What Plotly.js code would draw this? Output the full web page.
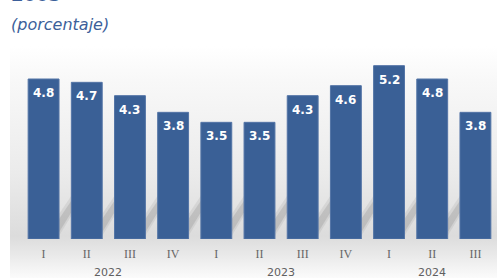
<!DOCTYPE html>
<html>
<head>
<meta charset="utf-8">
<script src="https://cdn.plot.ly/plotly-3.0.1.min.js"></script>
<style>html,body{margin:0;padding:0;background:#fff;}#chart{width:497px;height:278px;}</style>
</head>
<body>
<div id="chart"></div>
<script>
var quarters = ['I','II','III','IV','I','II','III','IV','I','II','III'];
var values = [4.8, 4.7, 4.3, 3.8, 3.5, 3.5, 4.3, 4.6, 5.2, 4.8, 3.8];
var years = ['2022','2023','2024'];
var yearCenters = [1.5, 5.5, 9];

var xs = quarters.map(function(q,i){return i;});
var barW = 0.715;

var bg = 'data:image/svg+xml;utf8,' + encodeURIComponent(
 '<svg xmlns="http://www.w3.org/2000/svg" width="100" height="100" preserveAspectRatio="none">' +
 '<defs><linearGradient id="g" x1="0" y1="0" x2="0" y2="1">' +
 '<stop offset="0" stop-color="#ffffff"/>' +
 '<stop offset="0.15" stop-color="#f8f8f8"/>' +
 '<stop offset="0.55" stop-color="#ebebeb"/>' +
 '<stop offset="0.82" stop-color="#dcdcdc"/>' +
 '<stop offset="0.9" stop-color="#e9e9e9"/>' +
 '<stop offset="1" stop-color="#fbfbfb"/>' +
 '</linearGradient></defs>' +
 '<rect width="100" height="100" fill="url(#g)"/></svg>');

// soft floor shadows between bars
var shapes = [];
for (var i = 0; i < xs.length - 1; i++) {
  var R = xs[i] + barW/2, L = xs[i+1] - barW/2;
  shapes.push({type:'path', xref:'x', yref:'y', layer:'below', line:{width:0},
    fillcolor:'rgba(150,150,150,0.18)',
    path:'M'+R+',0.1 L'+R+',0.75 L'+L+',1.3 L'+L+',0.7 Z'});
  shapes.push({type:'path', xref:'x', yref:'y', layer:'below', line:{width:0},
    fillcolor:'rgba(130,130,130,0.25)',
    path:'M'+R+',0.2 L'+R+',0.6 L'+L+',1.15 L'+L+',0.8 Z'});
}

var annotations = values.map(function(v,i){
  return {x:i, y:v, xref:'x', yref:'y', text:v.toFixed(1), showarrow:false,
    yanchor:'top', yshift:-5,
    font:{family:'DejaVu Sans', size:12, color:'#ffffff', weight:'bold'}};
});
years.forEach(function(yr,i){
  annotations.push({x:yearCenters[i], y:-0.178, xref:'x', yref:'paper', text:yr, showarrow:false,
    yanchor:'middle', font:{family:'DejaVu Sans', size:11, color:'#606060'}});
});
annotations.push({x:-13/475, y:(239-24)/191, xref:'paper', yref:'paper', xanchor:'left', yanchor:'middle',
  text:'<i>(porcentaje)</i>', showarrow:false,
  font:{family:'DejaVu Sans', size:16, color:'#3c5f9a'}});
annotations.push({x:-13/475, y:(239-7)/191, xref:'paper', yref:'paper', xanchor:'left', yanchor:'bottom',
  text:'<b>2003</b>', showarrow:false,
  font:{family:'DejaVu Sans', size:18, color:'#3c5f9a'}});

var trace = {
  type:'bar', x:xs, y:values,
  marker:{color:'#3a6096', line:{color:'#5374a6', width:1}},
  width:barW, hoverinfo:'none'
};

var layout = {
  width:497, height:278,
  margin:{l:22, r:0, t:48, b:39},
  paper_bgcolor:'#ffffff', plot_bgcolor:'rgba(0,0,0,0)',
  showlegend:false,
  xaxis:{range:[-0.5,10.5], tickvals:xs, ticktext:quarters, showgrid:false, zeroline:false,
    showline:false, ticks:'', ticklabelstandoff:6,
    tickfont:{family:'Liberation Serif', size:12, color:'#666666'}},
  yaxis:{range:[0,5.73], visible:false, showgrid:false, zeroline:false},
  images:[{source:bg, xref:'paper', yref:'paper', x:-12/475, y:(239-46)/191,
    sizex:487/475, sizey:232/191, sizing:'stretch', layer:'below', xanchor:'left', yanchor:'top'}],
  shapes:shapes,
  annotations:annotations
};

Plotly.newPlot('chart',[trace],layout,{displayModeBar:false, staticPlot:true});
</script>
</body>
</html>
